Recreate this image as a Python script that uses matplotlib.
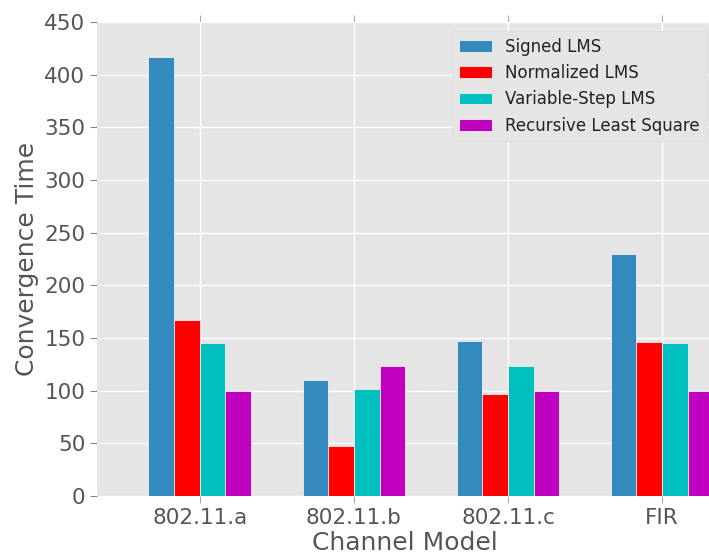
import numpy as np
import matplotlib
matplotlib.use("Agg")
import matplotlib.pyplot as plt

channels = ["802.11.a", "802.11.b", "802.11.c", "FIR"]
series_names = ["Signed LMS", "Normalized LMS", "Variable-Step LMS", "Recursive Least Square"]
signed_lms = [417, 110, 147, 230]
normalized_lms = [167, 47, 97, 146]
variable_step_lms = [145, 102, 123, 145]
rls = [100, 123, 100, 100]
colors = ["#348ABD", "#FF0000", "#00BFBF", "#BF00BF"]

plt.style.use("ggplot")
plt.rcParams["font.family"] = "DejaVu Sans"

fig = plt.figure(figsize=(7.09, 5.56), dpi=100)
ax = fig.add_axes([97 / 709, 60 / 556, 616 / 709, 474 / 556])

x = np.arange(len(channels))
w = 1 / 6
all_series = [signed_lms, normalized_lms, variable_step_lms, rls]
for k, (vals, name, col) in enumerate(zip(all_series, series_names, colors)):
    ax.bar(x + (k - 1.5) * w, vals, w, color=col, label=name,
           edgecolor="#EEEEEE", linewidth=0.6)

ax.set_xlim(-0.667, 3.33)
ax.set_ylim(0, 450)
ax.set_xticks(x)
ax.set_xticklabels(channels)
ax.set_yticks(range(0, 451, 50))
ax.set_facecolor("#E5E5E5")
ax.grid(True, color="white", linewidth=1)
ax.set_axisbelow(True)
for s in ax.spines.values():
    s.set_visible(False)

ax.tick_params(axis="both", labelsize=15.5, colors="#555555", direction="out", length=5)
ax.tick_params(axis="x", top=True, color="#AAAAAA")
ax.tick_params(axis="y", color="#888888")

ax.set_xlabel("Channel Model", fontsize=18, color="#555555", labelpad=2)
ax.set_ylabel("Convergence Time", fontsize=18, color="#555555", labelpad=4)

leg = ax.legend(loc="upper left", bbox_to_anchor=(452 / 709, 1 - 31 / 556),
                bbox_transform=fig.transFigure, fontsize=12, fancybox=False,
                borderaxespad=0, handlelength=2.0, labelspacing=0.5)
leg.get_frame().set_facecolor("#E5E5E5")
leg.get_frame().set_edgecolor("#DDDDDD")
leg.get_frame().set_alpha(1)
for t in leg.get_texts():
    t.set_color("#222222")

fig.savefig("out.png", dpi=100)
